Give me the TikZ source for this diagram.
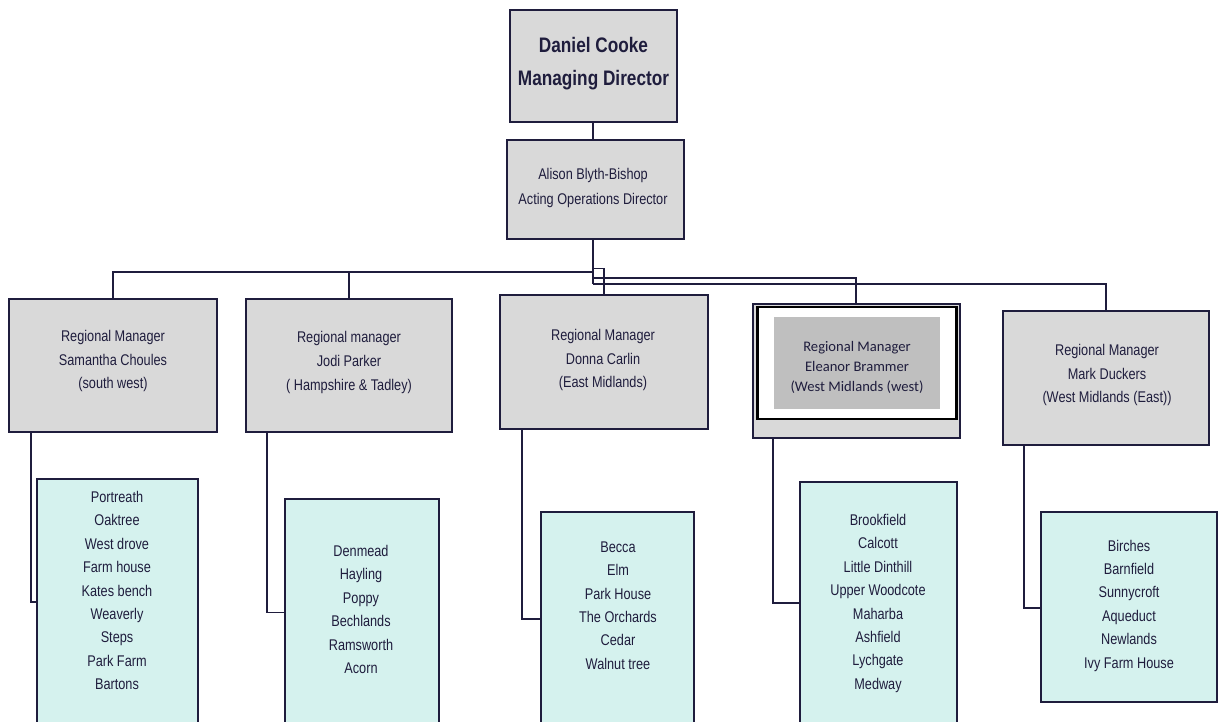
\documentclass[tikz,border=0pt]{standalone}
\usepackage{fontspec}
\newfontfamily\narrow[FakeStretch=0.82]{Liberation Sans}
\newfontfamily\calib{Carlito}
\definecolor{ink}{HTML}{1F1D3D}
\definecolor{boxgray}{HTML}{D9D9D9}
\definecolor{innergray}{HTML}{BFBFBF}
\definecolor{listfill}{HTML}{D5F2EE}
\tikzset{
  gbox/.style={draw=ink, line width=1.6pt, fill=boxgray, rectangle, inner sep=0pt},
  lbox/.style={draw=ink, line width=1.6pt, fill=listfill, rectangle, inner sep=0pt},
  txt/.style={text=ink, align=center, inner sep=0pt, font=\narrow\fontsize{15.5}{23.6}\selectfont},
  ltxt/.style={text=ink, align=center, inner sep=0pt, font=\narrow\fontsize{15.5}{23.4}\selectfont},
  conn/.style={draw=ink, line width=1.4pt},
  thick conn/.style={draw=ink, line width=2.6pt},
}
\begin{document}
\begin{tikzpicture}[x=1pt,y=-1pt]
\useasboundingbox (0,0) rectangle (1221,722);
\clip (0,0) rectangle (1221,722);
\fill[white] (0,0) rectangle (1221,722);

% top boxes
\node[gbox, minimum width=167pt, minimum height=112pt] (md) at (593.5,66) {};
\node[text=ink, align=center, inner sep=0pt, font=\narrow\bfseries\fontsize{21}{33}\selectfont] (mdt) at (593.5,63.5) {Daniel Cooke\\Managing Director};
\node[gbox, minimum width=177pt, minimum height=99pt] (od) at (595.5,189.5) {};
\node[txt, font=\narrow\fontsize{15.5}{25}\selectfont] (odt) at (593,187.5) {Alison Blyth-Bishop\\Acting Operations Director};

% regional boxes
\node[gbox, minimum width=208pt, minimum height=133pt] (r1) at (113,365.5) {};
\node[txt] (r1t) at (113,361) {Regional Manager\\Samantha Choules\\(south west)};
\node[gbox, minimum width=206pt, minimum height=133pt] (r2) at (349,365.5) {};
\node[txt] (r2t) at (349,362.5) {Regional manager\\Jodi Parker\\( Hampshire \& Tadley)};
\node[gbox, minimum width=208pt, minimum height=134pt] (r3) at (604,362) {};
\node[txt] (r3t) at (603,360) {Regional Manager\\Donna Carlin\\(East Midlands)};
\node[gbox, minimum width=207pt, minimum height=134pt] (r4) at (856.5,371) {};
\node[draw=black, line width=2.2pt, fill=white, minimum width=199pt, minimum height=112pt, inner sep=0pt] (r4f) at (857,363) {};
\node[fill=innergray, minimum width=166pt, minimum height=92pt, inner sep=0pt] (r4g) at (857,363) {};
\node[text=ink, align=center, inner sep=0pt, font=\calib\fontsize{14.6}{20}\selectfont] (r4t) at (857,367) {Regional Manager\\Eleanor Brammer\\(West Midlands (west)};
\node[gbox, minimum width=206pt, minimum height=134pt] (r5) at (1106,378) {};
\node[txt] (r5t) at (1107,375) {Regional Manager\\Mark Duckers\\(West Midlands (East))};

% list boxes
\node[lbox, minimum width=161pt, minimum height=261pt] (l1) at (117.5,609.5) {};
\node[ltxt] (l1t) at (117,590.5) {Portreath\\Oaktree\\West drove\\Farm house\\Kates bench\\Weaverly\\Steps\\Park Farm\\Bartons};
\node[lbox, minimum width=154pt, minimum height=241pt] (l2) at (362,619.5) {};
\node[ltxt] (l2t) at (361,609.5) {Denmead\\Hayling\\Poppy\\Bechlands\\Ramsworth\\Acorn};
\node[lbox, minimum width=153pt, minimum height=228pt] (l3) at (617.5,626) {};
\node[ltxt] (l3t) at (618,605.5) {Becca\\Elm\\Park House\\The Orchards\\Cedar\\Walnut tree};
\node[lbox, minimum width=157pt, minimum height=258pt] (l4) at (878.5,611) {};
\node[ltxt] (l4t) at (878,603.3) {Brookfield\\Calcott\\Little Dinthill\\Upper Woodcote\\Maharba\\Ashfield\\Lychgate\\Medway};
\node[lbox, minimum width=176pt, minimum height=190pt] (l5) at (1129,607) {};
\node[ltxt] (l5t) at (1129,605.5) {Birches\\Barnfield\\Sunnycroft\\Aqueduct\\Newlands\\Ivy Farm House};

% junction coordinates
\coordinate (jv) at (593,272);
\coordinate (jb) at (593,268.5);
\coordinate (jc) at (604,268.5);
\coordinate (j4) at (593,278);
\coordinate (j5) at (593,284);
\coordinate (x4) at (856,278);
\coordinate (x5) at (1106,284);

% upper connectors
\draw[thick conn] (md.south -| jv) -- (od.north -| jv);
\draw[thick conn] (od.south -| jv) -- (jv);
\draw[conn, line width=2pt] (jv) -| (r1.north);
\draw[conn] (r1.north -| 349,0) -- (349,272);
\draw[conn] (jb) -- (jc) -- (r3.north -| jc);
\draw[conn] (jb) -- (j5);
\draw[conn] (j4) -- (x4) -- (r4.north -| x4);
\draw[conn] (j5) -- (x5) -- (r5.north -| x5);

% lower connectors
\coordinate (c1) at (31,602);
\coordinate (c2) at (267,612.5);
\coordinate (c3) at (522,619);
\coordinate (c4) at (773,603);
\coordinate (c5) at (1024,608);
\draw[conn] (r1.south -| c1) |- (c1 -| l1.west);
\draw[conn] (r2.south -| c2) |- (c2 -| l2.west);
\draw[conn] (r3.south -| c3) |- (c3 -| l3.west);
\draw[conn] (r4.south -| c4) |- (c4 -| l4.west);
\draw[conn] (r5.south -| c5) |- (c5 -| l5.west);
\end{tikzpicture}
\end{document}
